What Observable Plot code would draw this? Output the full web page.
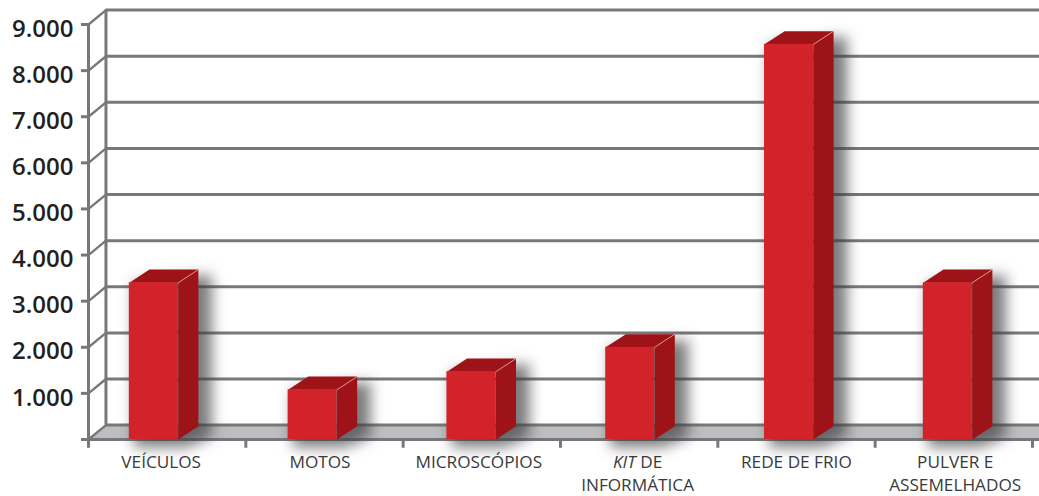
<!DOCTYPE html>
<html><head><meta charset="utf-8">
<script src="https://cdn.jsdelivr.net/npm/d3@7"></script>
<script src="https://cdn.jsdelivr.net/npm/@observablehq/plot@0.6"></script>
<style>html,body{margin:0;padding:0;background:#fff}svg{display:block}</style>
</head><body><div id="chart"></div>
<script>
const categories = ["VEÍCULOS","MOTOS","MICROSCÓPIOS","KIT DE\nINFORMÁTICA","REDE DE FRIO","PULVER E\nASSEMELHADOS"];
const values = [3400,1080,1470,2000,8570,3400];
const yTicks = [1000,2000,3000,4000,5000,6000,7000,8000,9000];
const yTickLabels = ["1.000","2.000","3.000","4.000","5.000","6.000","7.000","8.000","9.000"];

// projection of the pseudo-3D box, expressed in scale units
const wallDX = 0.111, wallDY = 312;     // depth of the chart wall
const barDX = 0.128, barDY = 285;       // depth of a bar
const barW = 0.311;
const barCenter = i => 0.415 + 1.0093 * i;
const xEnd = 6.045;
const grey = "#77787b", front = "#d2232a", dark = "#9d1317";

const poly = (pts) => pts.map(([x,y]) => ({x,y}));
const shape = (pts, o) => Plot.line(poly(pts), {x:"x", y:"y", stroke:"none", curve:"linear", ...o});

const bars = values.map((v,i) => {
  const c = barCenter(i);
  return {v, x1:c-barW/2, x2:c+barW/2};
});
const floorPts = [[0,0],[wallDX,wallDY],[xEnd,wallDY],[xEnd,0]];

const plot = Plot.plot({
  width:1039, height:496, marginLeft:0, marginRight:0, marginTop:0, marginBottom:0,
  style:{background:"#fff", fontFamily:"'Open Sans',sans-serif"},
  x:{type:"linear", domain:[0,6], range:[88,1032], axis:null},
  y:{type:"linear", domain:[0,9000], range:[439,24], axis:null},
  marks:[
    shape(floorPts,{fill:"#bcbec0"}),
    // back wall grid
    Plot.ruleY([0,...yTicks].map(v=>v+wallDY),{x1:wallDX,x2:xEnd,stroke:grey,strokeWidth:3}),
    Plot.ruleX([wallDX],{y1:wallDY,y2:9000+wallDY,stroke:grey,strokeWidth:3}),
    // side wall connectors
    ...[0,...yTicks].map(v=>Plot.line(poly([[0,v],[wallDX,v+wallDY]]),{x:"x",y:"y",stroke:grey,strokeWidth:2.4})),
    // front axis
    Plot.ruleX([0],{y1:0,y2:9000,stroke:grey,strokeWidth:3}),
    Plot.ruleY([0],{x1:0,x2:xEnd,stroke:grey,strokeWidth:3}),
    Plot.ruleY([0,...yTicks],{x1:-0.045,x2:0,stroke:grey,strokeWidth:3}),
    Plot.ruleX(d3.range(0,7),{y1:0,y2:-190,stroke:grey,strokeWidth:3}),
    Plot.text(yTicks,{x:0,y:d=>d,text:(d,i)=>yTickLabels[i],dx:-15,dy:4.5,textAnchor:"end",fontSize:24,fontWeight:600,fill:"#231f20"}),
    // shadows
    ...bars.map(b=>shape([[b.x1+0.03,b.v],[b.x2+barDX+0.085,b.v+barDY*0.6],[b.x2+barDX+0.085,barDY*0.2],[b.x2+0.05,-170],[b.x1+0.03,-170]],
      {fill:"#3c3d40",fillOpacity:0.68,imageFilter:"blur(7px)"})),
    // bars: side, top, front
    ...bars.map(b=>shape([[b.x2,0],[b.x2+barDX,barDY],[b.x2+barDX,b.v+barDY],[b.x2,b.v]],{fill:dark})),
    ...bars.map(b=>shape([[b.x1,b.v],[b.x1+barDX,b.v+barDY],[b.x2+barDX,b.v+barDY],[b.x2,b.v]],{fill:dark})),
    ...bars.map(b=>Plot.line(poly([[b.x2,b.v],[b.x2+barDX,b.v+barDY]]),{x:"x",y:"y",stroke:"#e9a9a9",strokeWidth:0.8})),
    Plot.rect(bars,{x1:"x1",x2:"x2",y1:0,y2:"v",fill:front}),
    // category labels
    Plot.text(categories,{x:(d,i)=>barCenter(i)+0.047,y:0,text:d=>d,dy:12,lineHeight:1.33,lineAnchor:"top",textAnchor:"middle",fontSize:17.2,fill:"#3a3a3c"})
  ]
});
document.getElementById("chart").appendChild(plot);
// "KIT" is set in italics in the label
plot.querySelectorAll("tspan").forEach(t=>{
  if(t.textContent==="KIT DE"){
    t.textContent="";
    const ns="http://www.w3.org/2000/svg";
    const a=document.createElementNS(ns,"tspan");a.setAttribute("font-style","italic");a.textContent="KIT";
    t.appendChild(a);t.appendChild(document.createTextNode(" DE"));
  }
});
</script></body></html>
